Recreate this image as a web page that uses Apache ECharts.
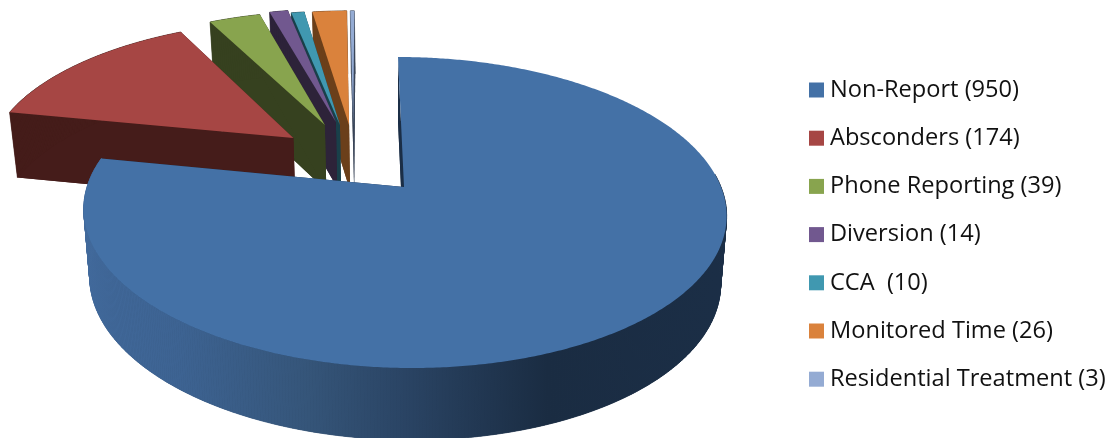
<!DOCTYPE html>
<html><head><meta charset="utf-8">
<style>html,body{margin:0;padding:0;background:#fff}#c{width:1114px;height:438px}</style>
<script src="https://cdn.jsdelivr.net/npm/echarts@6/dist/echarts.min.js"></script>
</head><body><div id="c"></div>
<script>
const categories = ['Non-Report (950)','Absconders (174)','Phone Reporting (39)','Diversion (14)','CCA  (10)','Monitored Time (26)','Residential Treatment (3)'];
const values = [950,174,39,14,10,26,3];
const topColors = ['#4471A6','#A64644','#88A44E','#71588F','#4098B0','#DA823C','#94ABD3'];
const sideColors = ['#1B2E46','#451C1A','#36411F','#2D2339','#19404A','#6B3F1A','#3A4558'];
// Exploded offset of each slice, in units of the pie radius (across, back)
const explodeAcross = [0,-0.361,-0.258,-0.221,-0.207,-0.176,-0.162];
const explodeBack = [0,0.342,0.439,0.462,0.439,0.439,0.439];

// Perspective of the two pie planes
const topPlane = {cx:404, a:317, s:-7, c:187, b:-120.65, w:0.164};
const basePlane = {cx:404, a:311, s:-7, c:254, b:-113, w:0.166};
function project(pl,u,v){const d=1+pl.w*v;return [pl.cx+(pl.a*u+pl.s*v)/d,(pl.c+pl.b*v)/d];}

const total = values.reduce((a,b)=>a+b,0);
const starts = [];let acc=0;
values.forEach(v=>{starts.push(acc/total*360);acc+=v;});

function arcPts(i,pl,a0,a1){
  const pts=[],n=Math.max(2,Math.ceil((a1-a0)/0.5));
  for(let k=0;k<=n;k++){const t=(a0+(a1-a0)*k/n)*Math.PI/180;
    pts.push(project(pl,explodeAcross[i]+Math.sin(t),explodeBack[i]+Math.cos(t)));}
  return pts;
}
function poly(points,fill,seam){
  const style={fill};
  if(seam){style.stroke=fill;style.lineWidth=0.7;}else{style.stroke=null;}
  return {type:'polygon',silent:true,shape:{points},style};
}

const blueWall=new echarts.graphic.LinearGradient(84,0,727,0,[
  {offset:0,color:'#41699B'},{offset:0.15,color:'#3D6392'},{offset:0.35,color:'#355579'},
  {offset:0.5,color:'#2A4464'},{offset:0.72,color:'#1A2C42'},{offset:1,color:'#1B2E46'}],true);

function renderSlice(i){
  const a0=starts[i],a1=a0+values[i]/total*360;
  const apexT=project(topPlane,explodeAcross[i],explodeBack[i]);
  const apexB=project(basePlane,explodeAcross[i],explodeBack[i]);
  const arcT=arcPts(i,topPlane,a0,a1),arcB=arcPts(i,basePlane,a0,a1);
  const side=sideColors[i];
  const children=[];
  children.push(poly([apexB].concat(arcB),side));
  children.push(poly([apexT,arcT[0],arcB[0],apexB],side));
  children.push(poly([apexT,arcT[arcT.length-1],arcB[arcB.length-1],apexB],side));
  const wallFill=i===0?blueWall:side;
  const w0=i===0?85:a0;
  const wT=arcPts(i,topPlane,w0,a1),wB=arcPts(i,basePlane,w0,a1);
  for(let k=0;k<wT.length-1;k++){
    children.push(poly([wT[k],wT[k+1],wB[k+1],wB[k]],wallFill,true));
  }
  children.push(poly([apexT].concat(arcT),topColors[i]));
  return {type:'group',children};
}

const chart=echarts.init(document.getElementById('c'),null,{renderer:'canvas'});
const order=categories.map((_,i)=>i).reverse();
chart.setOption({
  animation:false,
  backgroundColor:'#fff',
  legend:{
    orient:'vertical',left:809,top:78,padding:0,itemWidth:15,itemHeight:15,itemGap:24.2,
    icon:'rect',selectedMode:false,data:categories,
    textStyle:{fontFamily:'Open Sans',fontSize:23.6,color:'#111',lineHeight:24,padding:[0,0,0,1]}
  },
  series:order.map(i=>({
    type:'custom',name:categories[i],coordinateSystem:'none',silent:true,
    itemStyle:{color:topColors[i]},
    data:[[values[i]]],
    renderItem:()=>renderSlice(i)
  }))
});
</script></body></html>
